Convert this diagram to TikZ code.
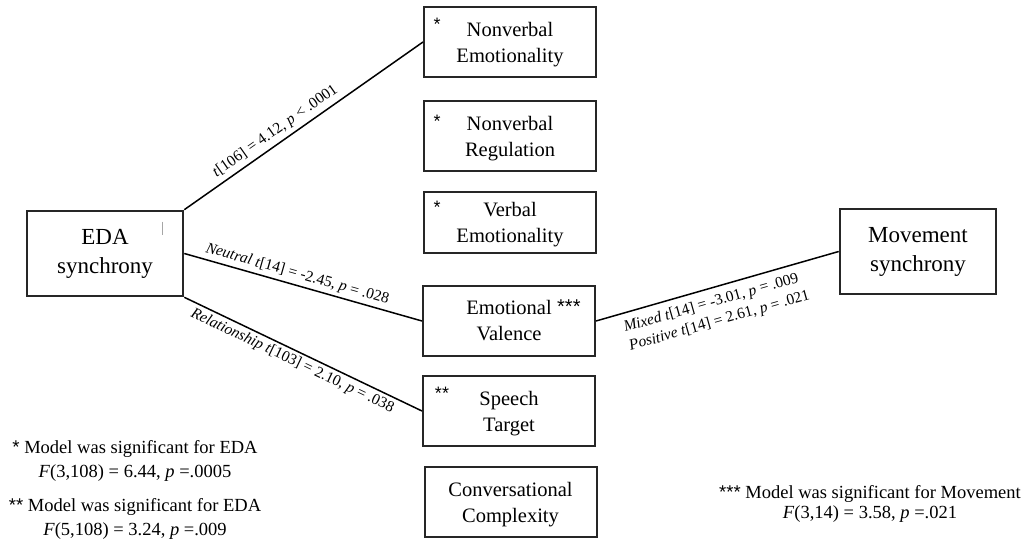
\documentclass[tikz,border=0pt]{standalone}
\usepackage{fontspec}
\setmainfont{Liberation Serif}
\newfontfamily\starfont{Liberation Sans}
\begin{document}
\begin{tikzpicture}[x=1pt,y=-1pt,
  bigbox/.style={draw=black!85, line width=2.6pt, minimum width=156pt, minimum height=85pt, inner sep=0pt, align=center, font=\fontsize{23}{29}\selectfont},
  midbox/.style={draw=black!85, line width=2pt, minimum width=172pt, minimum height=70pt, inner sep=0pt, align=center, font=\fontsize{20.5}{26}\selectfont},
  conn/.style={line width=1.5pt, black},
  lab/.style={font=\fontsize{15.5}{19.5}\selectfont, inner sep=0pt, sloped},
  star/.style={font=\fontsize{18}{18}\starfont, inner sep=0pt, anchor=base},
  note/.style={font=\fontsize{18.5}{24}\selectfont, align=center, inner sep=0pt}
]
\useasboundingbox (0,0) rectangle (1034,556);

% main boxes
\node[bigbox] (eda) at (105,253.5) {EDA\\synchrony};
\node[bigbox] (mov) at (918,251.5) {Movement\\synchrony};
\draw[gray!70, line width=1pt] (eda.north east) ++(-22,12) coordinate (tk1) -- ++(0,13) coordinate (tk2);

% middle boxes
\node[midbox, text depth=-1.6pt] (ne) at (510,42) {Nonverbal\\Emotionality};
\node[midbox, text depth=0.4pt] (nr) at (510,136.5) {Nonverbal\\Regulation};
\node[midbox, minimum height=61pt, text depth=0.4pt] (ve) at (510,223) {Verbal\\Emotionality};
\node[midbox] (ev) at (509,321) {Emotional\\Valence};
\node[midbox, text depth=-5.6pt] (st) at (509,411) {Speech\\Target};
\node[midbox, text depth=-1.6pt] (cc) at (510.5,502) {Conversational\\Complexity};

% stars in boxes
\node[star] (s1) at (437,31) {*};
\node[star] (s2) at (437,128) {*};
\node[star] (s3) at (437,214) {*};
\node[star] (s5) at (442,399) {**};
\node[star, anchor=base west, font=\fontsize{20}{20}\starfont] (s4) at (557,313) {***};

% connectors
\draw[conn] (eda.north east) -- node[lab, pos=0.41, above=4pt] {\textit{t}[106] = 4.12, \textit{p} < .0001} (ne.west);
\draw[conn] (eda.east) -- node[lab, pos=0.463, above=3pt] {\textit{Neutral t}[14] = -2.45, \textit{p} = .028} (ev.west);
\draw[conn] (eda.south east) -- node[lab, pos=0.474, below=3pt] {\textit{Relationship t}[103] = 2.10, \textit{p} = .038} (st.west);
\draw[conn] (ev.east) -- node[lab, pos=0.47, below=7pt, align=left] {\textit{Mixed t}[14] = -3.01, \textit{p} = .009\\\textit{Positive t}[14] = 2.61, \textit{p} = .021} (mov.west);

% notes
\node[note] (n1) at (135,460.5) {{\starfont *} Model was significant for EDA\\\textit{F}(3,108) = 6.44, \textit{p} =.0005};
\node[note] (n2) at (135,519) {{\starfont **} Model was significant for EDA\\\textit{F}(5,108) = 3.24, \textit{p} =.009};
\node[note, font=\fontsize{18.5}{20}\selectfont] (n3) at (870,503.5) {{\starfont ***} Model was significant for Movement\\\textit{F}(3,14) = 3.58, \textit{p} =.021};
\end{tikzpicture}
\end{document}
